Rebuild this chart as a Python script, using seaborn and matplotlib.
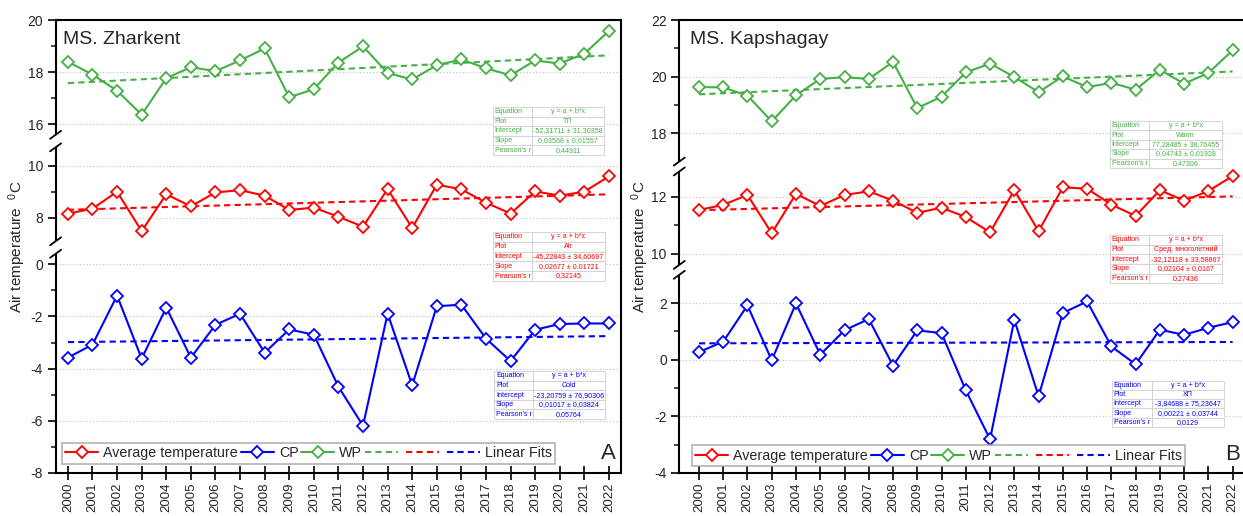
import numpy as np
import pandas as pd
import matplotlib
matplotlib.use("Agg")
import matplotlib.pyplot as plt
import seaborn as sns
from matplotlib.lines import Line2D
from matplotlib.patches import Rectangle
from matplotlib.ticker import FixedLocator, FuncFormatter

# ---------------- data ----------------
years = list(range(2000, 2023))

zh_wp = [18.40, 17.91, 17.29, 16.37, 17.77, 18.19, 18.04, 18.45, 18.91, 17.04, 17.35, 18.37,
         18.99, 17.97, 17.72, 18.27, 18.49, 18.15, 17.88, 18.45, 18.33, 18.71, 19.58]
zh_avg = [8.16, 8.35, 9.00, 7.49, 8.90, 8.44, 8.97, 9.06, 8.85, 8.30, 8.39, 8.04,
          7.66, 9.10, 7.61, 9.27, 9.09, 8.58, 8.16, 9.01, 8.85, 9.00, 9.59]
zh_cp = [-3.58, -3.08, -1.20, -3.62, -1.66, -3.58, -2.32, -1.90, -3.39, -2.50, -2.70, -4.69,
         -6.19, -1.89, -4.64, -1.61, -1.55, -2.85, -3.71, -2.51, -2.29, -2.27, -2.27]

ka_wp = [19.63, 19.62, 19.33, 18.42, 19.34, 19.92, 19.98, 19.92, 20.52, 18.89, 19.29, 20.15,
         20.46, 19.99, 19.45, 20.01, 19.63, 19.78, 19.54, 20.24, 19.75, 20.13, 20.93]
ka_avg = [11.54, 11.72, 12.07, 10.72, 12.11, 11.68, 12.07, 12.20, 11.87, 11.44, 11.62, 11.29,
          10.75, 12.24, 10.79, 12.34, 12.29, 11.73, 11.33, 12.24, 11.87, 12.21, 12.74]
ka_cp = [0.27, 0.64, 1.92, -0.02, 1.99, 0.18, 1.04, 1.44, -0.21, 1.04, 0.94, -1.08,
         -2.81, 1.41, -1.29, 1.65, 2.06, 0.47, -0.16, 1.06, 0.88, 1.13, 1.33]

series_labels = ["Average temperature", "CP", "WP", "Linear Fits"]
titles = ["MS. Zharkent", "MS. Kapshagay"]
letters = ["A", "B"]
ylabel = "Air temperature  $^{0}$C"

zh_major = [20, 18, 16, 10, 8, 0, -2, -4, -6, -8]
zh_minor = [19, 17, 9, -1, -3, -5, -7]
zh_grid = [18, 16, 10, 8, 0, -2, -4, -6]
ka_major = [22, 20, 18, 12, 10, 2, 0, -2, -4]
ka_minor = [21, 19, 11, 1, -1, -3]
ka_grid = [20, 18, 12, 10, 2, 0, -2]

zh_tab_wp = [["Equation", "y = a + b*x"], ["Plot", "ТП"], ["Intercept", "-52,31711 ± 31,30358"],
             ["Slope", "0,03568 ± 0,01557"], ["Pearson's r", "0,44911"]]
zh_tab_avg = [["Equation", "y = a + b*x"], ["Plot", "Air"], ["Intercept", "-45,22843 ± 34,60697"],
              ["Slope", "0,02677 ± 0,01721"], ["Pearson's r", "0,32145"]]
zh_tab_cp = [["Equation", "y = a + b*x"], ["Plot", "Cold"], ["Intercept", "-23,20759 ± 76,90306"],
             ["Slope", "0,01017 ± 0,03824"], ["Pearson's r", "0,05764"]]
ka_tab_wp = [["Equation", "y = a + b*x"], ["Plot", "Warm"], ["Intercept", "77,28485 ± 38,76455"],
             ["Slope", "0,04743 ± 0,01928"], ["Pearson's r", "0,47306"]]
ka_tab_avg = [["Equation", "y = a + b*x"], ["Plot", "Сред. многолетний"], ["Intercept", "-32,12118 ± 33,58867"],
              ["Slope", "0,02104 ± 0,0167"], ["Pearson's r", "0,27436"]]
ka_tab_cp = [["Equation", "y = a + b*x"], ["Plot", "ХП"], ["Intercept", "-3,84688 ± 75,23647"],
             ["Slope", "0,00221 ± 0,03744"], ["Pearson's r", "0,0129"]]

RED = "#ff0000"
BLUE = "#0000ff"
GREEN = "#45b045"

# ---------------- style ----------------
sns.set_style("ticks")
plt.rcParams["font.family"] = ["Liberation Sans", "DejaVu Sans"]
plt.rcParams["mathtext.fontset"] = "custom"
plt.rcParams["mathtext.rm"] = "Liberation Sans"
plt.rcParams["mathtext.it"] = "Liberation Sans:italic"
plt.rcParams["axes.unicode_minus"] = False

W, H = 1243, 516
fig = plt.figure(figsize=(W / 100, H / 100), dpi=100)


def make_scale(segs, gap):
    d, p, pos = [], [], 0.0
    for i, (lo, hi) in enumerate(segs):
        if i > 0:
            pos += gap
        d += [lo, hi]
        p += [pos, pos + (hi - lo)]
        pos += hi - lo
    d = np.array(d, float)
    p = np.array(p, float)

    def fwd(y):
        y = np.asarray(y, float)
        out = np.interp(y, d, p)
        out = np.where(y < d[0], p[0] + (y - d[0]), out)
        out = np.where(y > d[-1], p[-1] + (y - d[-1]), out)
        return out

    def inv(q):
        q = np.asarray(q, float)
        out = np.interp(q, p, d)
        out = np.where(q < p[0], d[0] + (q - p[0]), out)
        out = np.where(q > p[-1], d[-1] + (q - p[-1]), out)
        return out

    return fwd, inv


def stat_table(ax, rows, color, bbox):
    tbl = ax.table(cellText=rows, colWidths=[0.35, 0.65], bbox=bbox, cellLoc="center")
    tbl.auto_set_font_size(False)
    tbl.set_fontsize(5.1)
    tbl.set_zorder(4)
    for (r, c), cell in tbl.get_celld().items():
        cell.set_edgecolor("#cfcfcf")
        cell.set_linewidth(0.6)
        cell.set_facecolor("white")
        cell.get_text().set_color(color)
        if c == 0:
            cell.get_text().set_horizontalalignment("left")
            cell.PAD = 0.04


def panel(rect, xlim, wp, avg, cp, segs, gap, major, minor, grid, title, letter,
          tables, leg_anchor, title_pos, letter_pos, ylab_x):
    ax = fig.add_axes(rect)
    ax_w_px = rect[2] * W
    ax_h_px = rect[3] * H
    fwd, inv = make_scale(segs, gap)
    ax.set_yscale("function", functions=(fwd, inv))

    for gv in grid:
        ax.axhline(gv, color="#bdbdbd", lw=0.8, ls=(0, (1, 2)), zorder=1)

    for vals, color in [(wp, GREEN), (avg, RED), (cp, BLUE)]:
        df = pd.DataFrame({"year": years, "value": vals})
        sns.regplot(data=df, x="year", y="value", ax=ax, scatter=False, ci=None, truncate=True,
                    line_kws=dict(color=color, lw=1.5, ls=(0, (3, 2)), zorder=2))
        sns.lineplot(data=df, x="year", y="value", ax=ax, color=color, lw=1.5, marker="D",
                     markersize=6.3, markerfacecolor="white", markeredgecolor=color,
                     markeredgewidth=1.3, zorder=3)

    ax.set_xlim(*xlim)
    ax.set_ylim(segs[0][0], segs[-1][1])
    ax.set_xticks(years)
    ax.set_xticklabels([str(y) for y in years], rotation=90, fontsize=9.5)
    ax.yaxis.set_major_locator(FixedLocator(major))
    ax.yaxis.set_minor_locator(FixedLocator(minor))
    ax.yaxis.set_major_formatter(FuncFormatter(lambda v, p: f"{v:g}"))
    ax.tick_params(axis="y", which="major", direction="out", length=6, width=1.4,
                   labelsize=10, left=True, right=False, pad=3)
    ax.tick_params(axis="y", which="minor", direction="out", length=3.5, width=1.2,
                   left=True, right=False)
    ax.tick_params(axis="x", which="major", direction="inout", length=10, width=1.4,
                   bottom=True, top=False, pad=2)
    for s in ax.spines.values():
        s.set_linewidth(1.5)
        s.set_color("black")
    ax.set_xlabel("")
    ax.set_ylabel(ylabel, fontsize=11, va="center")
    ax.yaxis.set_label_coords(ylab_x, 0.5)

    # axis breaks
    def frac(y):
        return ax.transAxes.inverted().transform(ax.transData.transform((xlim[0], y)))[1]

    dx = 5.5 / ax_w_px
    dy = 4.0 / ax_h_px
    for i in range(len(segs) - 1):
        y1 = frac(segs[i][1])
        y2 = frac(segs[i + 1][0])
        ax.add_patch(Rectangle((-0.012, y1), 0.024, y2 - y1, transform=ax.transAxes,
                               facecolor="white", edgecolor="none", clip_on=False, zorder=5))
        for yy in (y1, y2):
            ax.plot([-dx, dx], [yy - dy, yy + dy], transform=ax.transAxes, color="black",
                    lw=1.3, clip_on=False, zorder=6)

    ax.text(title_pos[0], title_pos[1], title, transform=ax.transAxes, fontsize=14,
            ha="left", va="center")
    ax.text(letter_pos[0], letter_pos[1], letter, transform=ax.transAxes, fontsize=16,
            ha="center", va="center")

    for rows, color, bbox in tables:
        stat_table(ax, rows, color, bbox)

    mk = dict(lw=1.5, marker="D", ms=6.3, mfc="white", mew=1.3)
    handles = [Line2D([], [], color=RED, mec=RED, **mk),
               Line2D([], [], color=BLUE, mec=BLUE, **mk),
               Line2D([], [], color=GREEN, mec=GREEN, **mk),
               Line2D([], [], color=GREEN, lw=1.5, ls=(0, (3, 2))),
               Line2D([], [], color=RED, lw=1.5, ls=(0, (3, 2))),
               Line2D([], [], color=BLUE, lw=1.5, ls=(0, (3, 2)))]
    labels = [series_labels[0], series_labels[1], series_labels[2], "", "", series_labels[3]]
    leg = ax.legend(handles, labels, ncol=6, loc="lower left", bbox_to_anchor=leg_anchor,
                    borderaxespad=0, fontsize=10.3, handlelength=2.3, handletextpad=0.35,
                    columnspacing=0.2, frameon=True, fancybox=False, edgecolor="#a0a0a0",
                    borderpad=0.25, numpoints=1)
    leg.get_frame().set_linewidth(1.2)
    leg.set_zorder(7)
    return ax


# Panel A
axA_rect = [55.6 / W, 43 / H, (621 - 55.6) / W, 453 / H]
panel(axA_rect, (1999.5, 2022.49), zh_wp, zh_avg, zh_cp,
      [(-8, 0.4), (7.1, 10.7), (15.6, 20)], 0.48,
      zh_major, zh_minor, zh_grid, titles[0], letters[0],
      [(zh_tab_wp, GREEN, [0.774, 0.702, 0.196, 0.106]),
       (zh_tab_avg, RED, [0.774, 0.424, 0.197, 0.108]),
       (zh_tab_cp, BLUE, [0.776, 0.119, 0.196, 0.106])],
      (0.011, 0.02), (0.013, 0.958), (0.977, 0.044), -0.068)

# Panel B
axB_rect = [679.3 / W, 43 / H, (1246 - 679.3) / W, 453 / H]
panel(axB_rect, (1999.19, 2022.55), ka_wp, ka_avg, ka_cp,
      [(-4, 3.0), (9.6, 12.9), (17, 22)], 0.35,
      ka_major, ka_minor, ka_grid, titles[1], letters[1],
      [(ka_tab_wp, GREEN, [0.760, 0.673, 0.198, 0.104]),
       (ka_tab_avg, RED, [0.760, 0.419, 0.198, 0.106]),
       (ka_tab_cp, BLUE, [0.764, 0.102, 0.198, 0.101])],
      (0.022, 0.015), (0.019, 0.956), (0.977, 0.04), -0.069)

fig.savefig("out.png", dpi=100)
